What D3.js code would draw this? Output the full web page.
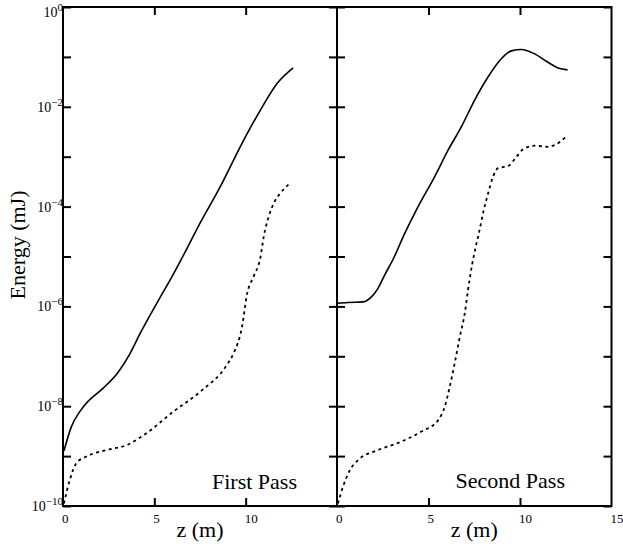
<!DOCTYPE html>
<html>
<head>
<meta charset="utf-8">
<script src="https://cdn.jsdelivr.net/npm/d3@7"></script>
<style>
  html, body { margin: 0; padding: 0; background: #fff; }
  svg { display: block; font-family: "Liberation Serif", "Times New Roman", serif; }
</style>
</head>
<body>
<svg id="chart" width="623" height="553"></svg>
<script>
// ---------------- DATA ----------------
const panelTitles = ["First Pass", "Second Pass"];
const xTickValues = [0, 5, 10, 15];
const yTickExponents = [0, -1, -2, -3, -4, -5, -6, -7, -8, -9, -10];
const yLabelExponents = [0, -2, -4, -6, -8, -10];

// First pass, solid curve
const pass1SolidZ = [0.05, 0.46, 0.92, 1.28, 2.2, 3.02, 3.66, 4.21, 4.76, 5.31, 5.96, 6.59, 7.51, 8.61, 9.71, 10.8, 11.73, 12.6];
const pass1SolidE = [1.26e-9, 3.9e-9, 7.8e-9, 1.15e-8, 2.3e-8, 4.8e-8, 1.12e-7, 2.8e-7, 6.6e-7, 1.5e-6, 3.9e-6, 1.05e-5, 4.7e-5, 2.5e-4, 1.6e-3, 8.5e-3, 2.95e-2, 6.0e-2];
// First pass, dotted curve
const pass1DotZ = [0.05, 0.37, 0.73, 1.28, 2.38, 3.48, 4.58, 6.04, 7.51, 8.98, 9.34, 9.8, 10.08, 10.44, 10.8, 10.99, 11.26, 11.54, 11.9, 12.46];
const pass1DotE = [1.12e-10, 3.3e-10, 7.2e-10, 9.8e-10, 1.32e-9, 1.66e-9, 2.9e-9, 7.8e-9, 1.95e-8, 6.8e-8, 1.15e-7, 3.9e-7, 1.8e-6, 4.0e-6, 9.3e-6, 2.5e-5, 6.3e-5, 1.17e-4, 1.86e-4, 3.0e-4];
// Second pass, solid curve
const pass2SolidZ = [0.0, 0.6, 1.42, 1.88, 2.24, 2.61, 3.06, 3.7, 4.43, 5.34, 6.07, 6.8, 7.53, 8.26, 8.99, 9.53, 10.08, 10.8, 11.53, 12.08, 12.6];
const pass2SolidE = [1.15e-6, 1.2e-6, 1.23e-6, 1.55e-6, 2.3e-6, 4.3e-6, 8.7e-6, 2.9e-5, 1.0e-4, 4.0e-4, 1.35e-3, 4.0e-3, 1.38e-2, 4.0e-2, 9.3e-2, 0.132, 0.141, 0.115, 0.078, 0.060, 0.055];
// Second pass, dotted curve
const pass2DotZ = [0.05, 0.33, 0.7, 1.15, 2.24, 3.52, 4.61, 5.52, 5.89, 6.16, 6.43, 6.71, 6.98, 7.16, 7.38, 7.57, 7.75, 8.02, 8.26, 8.53, 8.8, 9.35, 9.81, 10.17, 10.81, 11.53, 11.99, 12.54];
const pass2DotE = [1.12e-10, 2.45e-10, 5.2e-10, 8.3e-10, 1.32e-9, 1.95e-9, 3.1e-9, 5.2e-9, 9.8e-9, 2.45e-8, 7.2e-8, 2.45e-7, 7.2e-7, 2.14e-6, 6.8e-6, 1.5e-5, 2.9e-5, 8.5e-5, 1.86e-4, 4.0e-4, 5.9e-4, 6.5e-4, 1.0e-3, 1.41e-3, 1.66e-3, 1.58e-3, 1.78e-3, 2.57e-3];

// ---------------- LAYOUT ----------------
const svg = d3.select("#chart");
const plotTop = 7, plotBottom = 506;
const panels = [
  { x0: 63, x1: 337, title: panelTitles[0], solid: [pass1SolidZ, pass1SolidE], dot: [pass1DotZ, pass1DotE], xLabels: [0, 5, 10], titleX: 297, titleY: 489 },
  { x0: 337, x1: 611.5, title: panelTitles[1], solid: [pass2SolidZ, pass2SolidE], dot: [pass2DotZ, pass2DotE], xLabels: [0, 5, 10, 15], titleX: 565, titleY: 488 }
];

const y = d3.scaleLog().domain([1e-10, 1]).range([plotBottom, plotTop]);
const yTicks = yTickExponents.map(e => Math.pow(10, e));
const tickLen = 8;

panels.forEach((p, i) => {
  const x = d3.scaleLinear().domain([0, 15]).range([p.x0, p.x1]);
  const g = svg.append("g");

  // ticks via d3 axes (inward)
  const innerX = xTickValues.filter(v => v > 0 && v < 15);
  g.append("g").attr("transform", `translate(0,${plotBottom})`)
    .call(d3.axisBottom(x).tickValues(innerX).tickSize(-tickLen).tickFormat(""));
  g.append("g").attr("transform", `translate(0,${plotTop})`)
    .call(d3.axisTop(x).tickValues(innerX).tickSize(-tickLen).tickFormat(""));
  g.append("g").attr("transform", `translate(${p.x0},0)`)
    .call(d3.axisLeft(y).tickValues(yTicks).tickSize(-tickLen).tickFormat(""));
  g.append("g").attr("transform", `translate(${p.x1},0)`)
    .call(d3.axisRight(y).tickValues(yTicks).tickSize(-tickLen).tickFormat(""));
  g.selectAll(".domain").remove();
  g.selectAll(".tick line").attr("stroke", "#000").attr("stroke-width", 2);

  // frame
  g.append("rect")
    .attr("x", p.x0).attr("y", plotTop)
    .attr("width", p.x1 - p.x0).attr("height", plotBottom - plotTop)
    .attr("fill", "none").attr("stroke", "#000").attr("stroke-width", 2);

  // curves
  const line = d3.line()
    .x(d => x(d[0])).y(d => y(d[1]))
    .curve(d3.curveMonotoneX);
  const solidPts = p.solid[0].map((z, k) => [z, p.solid[1][k]]);
  const dotPts = p.dot[0].map((z, k) => [z, p.dot[1][k]]);
  g.append("path").datum(solidPts).attr("d", line)
    .attr("fill", "none").attr("stroke", "#000").attr("stroke-width", 1.6);
  g.append("path").datum(dotPts).attr("d", line)
    .attr("fill", "none").attr("stroke", "#000").attr("stroke-width", 1.8)
    .attr("stroke-dasharray", "3,3.5");

  // x tick labels
  g.selectAll(".xl").data(p.xLabels).enter().append("text")
    .attr("x", d => x(d) - 1).attr("y", 523)
    .attr("font-size", 13).attr("text-anchor", "start")
    .text(d => d);

  // x axis title
  g.append("text")
    .attr("x", (p.x0 + p.x1) / 2).attr("y", 537)
    .attr("font-size", 22).attr("text-anchor", "middle")
    .text("z (m)");

  // panel title
  g.append("text")
    .attr("x", p.titleX).attr("y", p.titleY)
    .attr("font-size", 22).attr("text-anchor", "end")
    .text(p.title);
});

// y tick labels (left only)
const yl = svg.selectAll(".yl").data(yLabelExponents).enter().append("text")
  .attr("x", 63)
  .attr("y", d => y(Math.pow(10, d)) + (d === 0 ? 10 : 5))
  .attr("font-size", 14).attr("text-anchor", "end");
yl.append("tspan").text("10");
yl.append("tspan").attr("dy", -6).attr("font-size", 11)
  .text(d => d === 0 ? "0" : "\u2212" + Math.abs(d));

// y axis title
svg.append("text")
  .attr("transform", "translate(25,245) rotate(-90)")
  .attr("font-size", 22).attr("text-anchor", "middle")
  .text("Energy (mJ)");
</script>
</body>
</html>
